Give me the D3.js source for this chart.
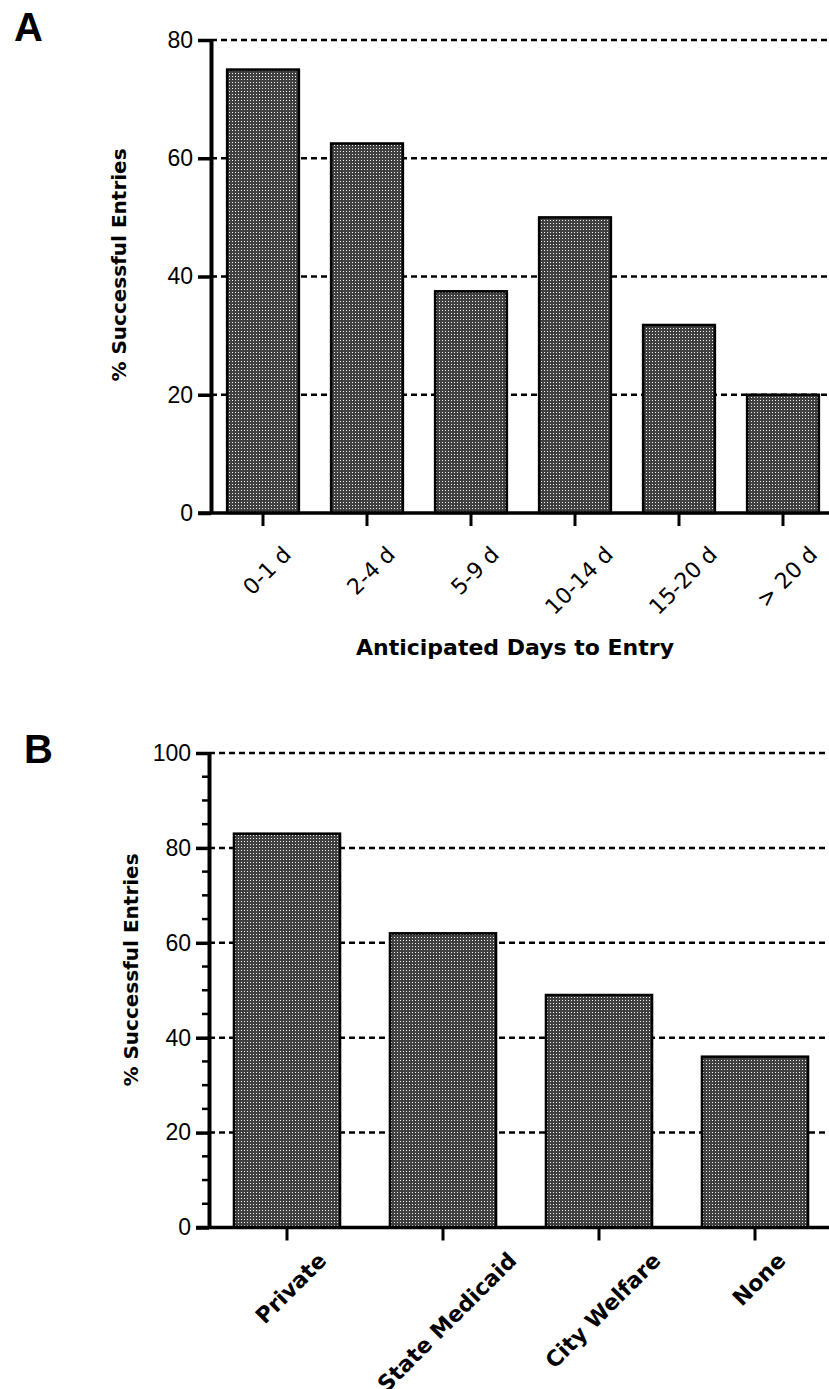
<!DOCTYPE html>
<html>
<head>
<meta charset="utf-8">
<script src="https://cdn.jsdelivr.net/npm/d3@7"></script>
<style>
  body { margin: 0; background: #fff; }
  svg { display: block; }
  text { font-family: "Liberation Sans", Arial, sans-serif; fill: #000; }
</style>
</head>
<body>
<svg id="chart" width="829" height="1389"></svg>
<script>
// panel A data
const daysCategories = ["0-1 d", "2-4 d", "5-9 d", "10-14 d", "15-20 d", "> 20 d"];
const daysValues = [75, 62.5, 37.5, 50, 31.8, 20];
const daysTicks = [0, 20, 40, 60, 80];

// panel B data
const payerCategories = ["Private", "State Medicaid", "City Welfare", "None"];
const payerValues = [83, 62, 49, 36];
const payerTicks = [0, 20, 40, 60, 80, 100];
const payerMinorTicks = [5, 10, 15, 25, 30, 35, 45, 50, 55, 65, 70, 75, 85, 90, 95];

const svg = d3.select('#chart');
const wideFont = '"DejaVu Sans", Verdana, sans-serif';

// halftone grey used for the bars
const defs = svg.append('defs');
const pat = defs.append('pattern')
    .attr('id', 'halftone')
    .attr('patternUnits', 'userSpaceOnUse')
    .attr('width', 3).attr('height', 3);
pat.append('rect').attr('width', 3).attr('height', 3).attr('fill', '#404040');
pat.append('rect').attr('x', 1).attr('y', 1).attr('width', 1).attr('height', 1).attr('fill', '#f2f2f2');

function drawPanel(p) {
    const g = svg.append('g');

    const y = d3.scaleLinear().domain([0, p.yMax]).range([p.y0, p.y1]);
    const x = d3.scaleBand()
        .domain(p.categories)
        .range([p.x0, p.x1])
        .paddingInner(p.pad)
        .paddingOuter(p.pad / 2);

    // dashed grid lines
    g.selectAll('.grid')
        .data(p.ticks.filter(d => d > 0))
        .enter().append('line')
        .attr('x1', p.x0).attr('x2', 829)
        .attr('y1', d => y(d)).attr('y2', d => y(d))
        .style('stroke', '#000')
        .style('stroke-width', 2.5)
        .style('stroke-dasharray', '6,4');

    // bars
    g.selectAll('.bar')
        .data(p.values)
        .enter().append('rect')
        .attr('x', (d, i) => x(p.categories[i]))
        .attr('y', d => y(d))
        .attr('width', x.bandwidth())
        .attr('height', d => p.y0 - y(d))
        .attr('fill', 'url(#halftone)')
        .style('stroke', '#000')
        .style('stroke-width', 2.5);

    // minor ticks
    if (p.minor) {
        g.selectAll('.minor')
            .data(p.minor)
            .enter().append('line')
            .attr('x1', p.axisX - 7).attr('x2', p.axisX)
            .attr('y1', d => y(d)).attr('y2', d => y(d))
            .style('stroke', '#000').style('stroke-width', 2.5);
    }

    // y axis
    const yAxis = g.append('g')
        .attr('transform', `translate(${p.axisX},0)`)
        .call(d3.axisLeft(y).tickValues(p.ticks).tickSize(13).tickSizeOuter(0).tickPadding(5));
    yAxis.select('.domain').style('stroke-width', 4);
    yAxis.selectAll('.tick line').style('stroke-width', 3.5);
    yAxis.selectAll('.tick text')
        .style('font-size', '23px')
        .style('font-family', '"Liberation Sans", Arial, sans-serif');

    // x axis
    const xAxis = g.append('g')
        .attr('transform', `translate(0,${p.y0})`)
        .call(d3.axisBottom(x).tickSize(13).tickSizeOuter(0).tickFormat(''));
    xAxis.select('.domain').attr('d', `M${p.axisX - 13},0H${p.x1}`).style('stroke-width', 3.5);
    xAxis.selectAll('.tick line').style('stroke-width', 3);

    // rotated category labels: centred on the tick, tops aligned
    p.categories.forEach(function (c) {
        const t = g.append('text')
            .attr('text-anchor', 'middle')
            .attr('dominant-baseline', 'central')
            .style('font-family', wideFont)
            .style('font-size', p.labelSize + 'px')
            .style('font-weight', p.labelWeight)
            .text(c);
        const L = t.node().getComputedTextLength();
        const h = p.labelSize * 0.72;
        const cx = x(c) + x.bandwidth() / 2 + 4;
        const cy = p.labelTop + (L + h) / (2 * Math.SQRT2);
        t.attr('transform', `translate(${cx},${cy}) rotate(-45)`);
    });

    // y title
    g.append('text')
        .attr('transform', `translate(${p.titleX},${p.titleY}) rotate(-90)`)
        .attr('text-anchor', 'middle')
        .style('font-family', wideFont)
        .style('font-size', '20px')
        .style('font-weight', 'bold')
        .text('% Successful Entries');

    if (p.xTitle) {
        g.append('text')
            .attr('x', p.xTitleX).attr('y', p.xTitleY)
            .attr('text-anchor', 'middle')
            .style('font-family', wideFont)
            .style('font-size', '22px')
            .style('font-weight', 'bold')
            .text(p.xTitle);
    }

    // panel letter
    g.append('text')
        .attr('x', p.letterX).attr('y', p.letterY)
        .style('font-size', '40px')
        .style('font-weight', 'bold')
        .text(p.letter);
}

drawPanel({
    categories: daysCategories, values: daysValues, ticks: daysTicks, yMax: 80,
    x0: 211, x1: 835, pad: 0.31, y0: 513, y1: 40, axisX: 211,
    labelSize: 22, labelWeight: 'normal', labelTop: 545,
    titleX: 126, titleY: 265,
    xTitle: 'Anticipated Days to Entry', xTitleX: 515, xTitleY: 655,
    letter: 'A', letterX: 14, letterY: 41
});

drawPanel({
    categories: payerCategories, values: payerValues, ticks: payerTicks, minor: payerMinorTicks, yMax: 100,
    x0: 209, x1: 833, pad: 0.32, y0: 1227.5, y1: 753, axisX: 209,
    labelSize: 22, labelWeight: 'bold', labelTop: 1251,
    titleX: 138, titleY: 970,
    letter: 'B', letterX: 24, letterY: 763
});
</script>
</body>
</html>
